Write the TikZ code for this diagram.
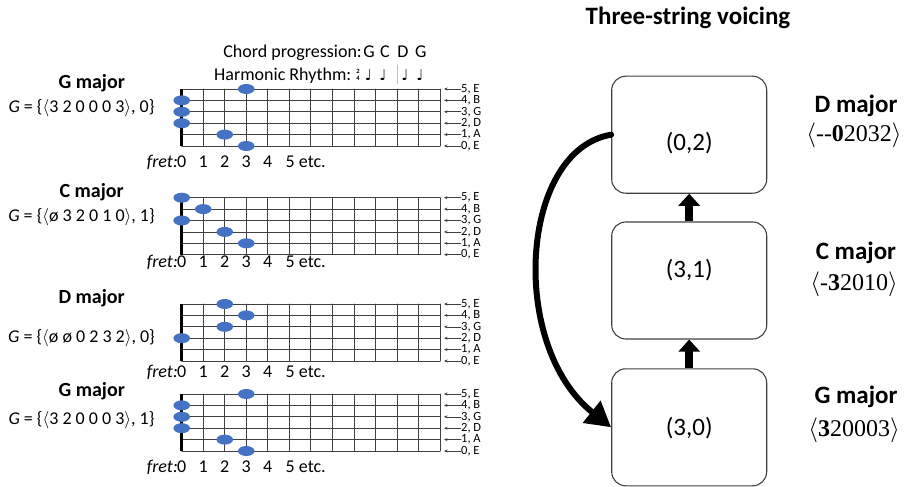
\documentclass[tikz,border=0pt]{standalone}
\usepackage{fontspec}
\setmainfont{Carlito}
\newfontfamily\timesfont{Liberation Serif}
\newfontfamily\notefont{DejaVu Sans}
\usepackage{tikz}
\usetikzlibrary{arrows.meta}
\definecolor{dotblue}{HTML}{4472C4}
\definecolor{gridgray}{HTML}{404040}

\begin{document}
\begin{tikzpicture}[line cap=round,line join=round,x=1pt,y=-1pt,
    fretline/.style={gridgray,line width=0.8pt},
    nutline/.style={black,line width=3pt,line cap=butt},
    fingerdot/.style={fill=dotblue},
    stringlab/.style={anchor=west,inner sep=0pt,font=\fontsize{12.5}{12}\selectfont},
    stringarrow/.style={gridgray,line width=0.6pt,-{Stealth[length=3.5pt,width=3pt]}},
    fretnum/.style={anchor=base,inner sep=0pt,font=\fontsize{18}{20}\selectfont},
    chordlab/.style={inner sep=0pt,font=\fontsize{20}{22}\selectfont\bfseries},
    formlab/.style={inner sep=0pt,font=\fontsize{18}{20}\selectfont},
    toplab/.style={anchor=base,inner sep=0pt,font=\fontsize{18}{20}\selectfont},
    note/.style={anchor=base,inner sep=0pt,font=\notefont\fontsize{15}{15}\selectfont},
    voicebox/.style={draw=gridgray,line width=1.1pt,rounded corners=14pt,minimum width=155pt,minimum height=117pt,inner sep=0pt},
    voicetext/.style={inner sep=0pt,font=\fontsize{25}{28}\selectfont},
    chordname/.style={anchor=base,inner sep=0pt,font=\fontsize{25}{27}\selectfont\bfseries},
    voicing/.style={anchor=base,inner sep=0pt,font=\timesfont\fontsize{24}{26}\selectfont},
    steparrow/.style={line width=8pt,line cap=butt,-{Triangle[width=21pt,length=12pt]}},
    backarrow/.style={line width=6pt,-{Triangle[width=27pt,length=25pt]}}]
\clip(0,0) rectangle (906,487);

\foreach \ty/\fy/\dl [count=\bd] in {89/167/{0/3,1/2,2/0,3/0,4/0,5/3},197.7/267/{1/3,2/2,3/0,4/1,5/0},304/377/{2/0,3/2,4/3,5/2},394/472.5/{0/3,1/2,2/0,3/0,4/0,5/3}}{
  \foreach \sn in {0,...,5} \draw[fretline] (181.7,{\ty+\sn*11.4})-- (440,{\ty+\sn*11.4});
  \foreach \fr in {1,...,12} \draw[fretline] ({181.7+\fr*21.525},\ty)-- ({181.7+\fr*21.525},{\ty+57});
  \draw[nutline] (181.7,\ty)-- (181.7,{\ty+57});
  \foreach \sn/\fr in \dl \fill[fingerdot] ({181.7+\fr*21.525},{\ty+(5-\sn)*11.4}) ellipse [x radius=8.3,y radius=5];

  \foreach \sn/\nm in {5/E,4/B,3/G,2/D,1/A,0/E}{
    \node[stringlab] (str\bd\sn) at (461,{\ty+(5-\sn)*11.4}) {\sn, \nm};
    \coordinate (end\bd\sn) at (444,{\ty+(5-\sn)*11.4});
    \draw[stringarrow] (str\bd\sn)-- (end\bd\sn);
  }

  \node[fretnum,anchor=base east] (fret\bd) at (178,\fy) {\textit{fret:}};
  \foreach \fr in {0,...,4} \node[fretnum] (num\bd\fr) at ({181.7+\fr*21.525},\fy) {\fr};
  \node[fretnum,anchor=base west] (etc\bd) at (285.5,\fy) {5 etc.};
}

\node[chordlab] (nameG) at (91.7,83.3) {G major};
\node[formlab] (formG) at (81.5,108.3) {\textit{G} = \{$\langle$3 2 0 0 0 3$\rangle$, 0\}};
\node[chordlab] (nameC) at (91.7,191.7) {C major};
\node[formlab] (formC) at (81.5,216.7) {\textit{G} = \{$\langle$ø 3 2 0 1 0$\rangle$, 1\}};
\node[chordlab] (nameD) at (91.7,298.3) {D major};
\node[formlab] (formD) at (81.5,338.3) {\textit{G} = \{$\langle$ø ø 0 2 3 2$\rangle$, 0\}};
\node[chordlab] (nameGb) at (91.7,390.7) {G major};
\node[formlab] (formGb) at (81.5,420) {\textit{G} = \{$\langle$3 2 0 0 0 3$\rangle$, 1\}};

\node[toplab,anchor=base east] (prog) at (362,57.5) {Chord progression:};
\node[toplab] (progG) at (369,57.5) {G};
\node[toplab] (progC) at (385,57.5) {C};
\node[toplab] (progD) at (403,57.5) {D};
\node[toplab] (progGb) at (420.7,57.5) {G};
\node[toplab,anchor=base west] (rhythm) at (214,81) {Harmonic Rhythm:\hspace{5pt}\raisebox{0pt}{\fontsize{6.5}{9.5}\selectfont\bfseries\shortstack{2\\4}}};
\node[note] (noteG) at (368.5,81) {♩};
\node[note] (noteC) at (383,81) {♩};
\node[note] (noteD) at (405,81) {♩};
\node[note] (noteGb) at (420,81) {♩};
\draw[gray!50,line width=1pt] (397,65)-- (397,84);

\node[font=\fontsize{25}{28}\selectfont\bfseries,inner sep=0pt] (title) at (688,18.3) {Three-string voicing};

\node[voicebox] (boxD) at (689.2,134.7) {};
\node[voicebox] (boxC) at (689.2,280.5) {};
\node[voicebox] (boxG) at (689.2,427.3) {};
\node[voicetext] (textD) at (689.2,143.5) {(0,2)};
\node[voicetext] (textC) at (689.2,270) {(3,1)};
\node[voicetext] (textG) at (689.2,428) {(3,0)};

\draw[steparrow] (boxG.north)-- (boxC.south);
\draw[steparrow] (boxC.north)-- (boxD.south);
\draw[backarrow] (boxD.west) .. controls (520,150) and (508,345) .. (boxG.west);

\node[chordname] (chordD) at (856,113) {D major};
\node[voicing] (voiceD) at (854,142) {$\langle$-{}-\textbf{0}2032$\rangle$};
\node[chordname] (chordC) at (856,259.5) {C major};
\node[voicing] (voiceC) at (854,290.5) {$\langle$-\textbf{3}2010$\rangle$};
\node[chordname] (chordG) at (856,403) {G major};
\node[voicing] (voiceG) at (854,436) {$\langle$\textbf{3}20003$\rangle$};

\end{tikzpicture}
\end{document}
